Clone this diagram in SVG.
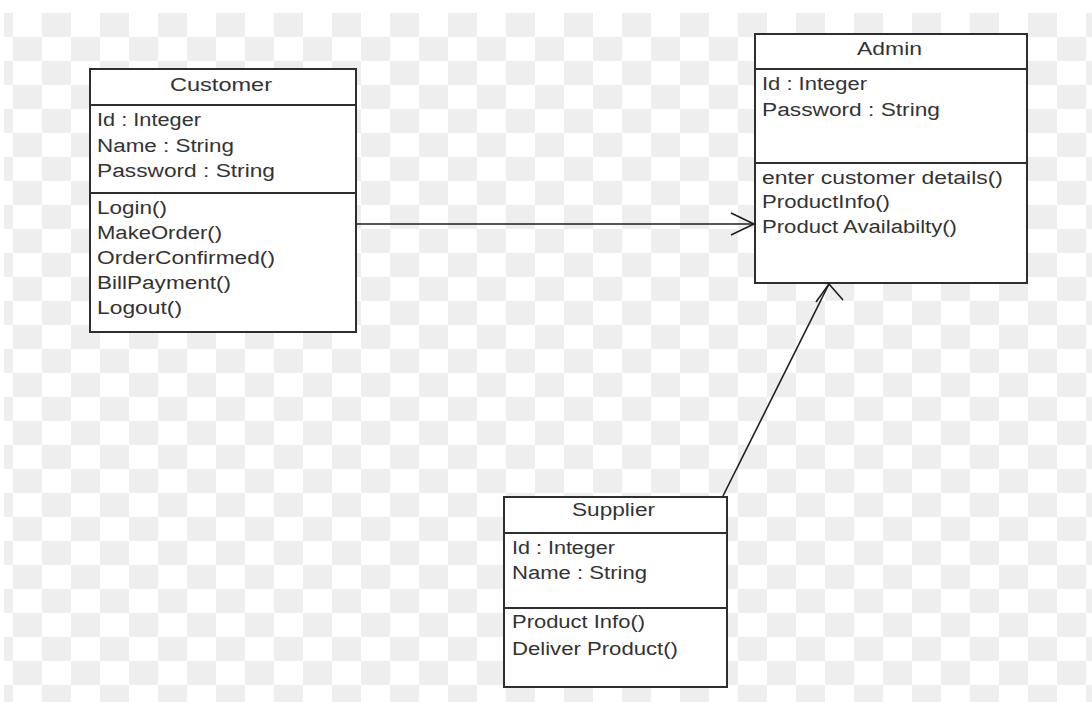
<svg xmlns="http://www.w3.org/2000/svg" width="1092" height="702" viewBox="0 0 1092 702">
  <defs>
    <pattern id="checker" patternUnits="userSpaceOnUse" x="13" y="13" width="58" height="48">
      <rect x="0" y="0" width="58" height="48" fill="#ffffff"/>
      <rect x="29" y="0" width="29" height="24" fill="#eeeeee"/>
      <rect x="0" y="24" width="29" height="24" fill="#eeeeee"/>
    </pattern>
  </defs>
  <style>
    .box { fill: #ffffff; stroke: #2e2e2e; stroke-width: 2; }
    .sep { stroke: #2e2e2e; stroke-width: 2; }
    .txt { font-family: "Liberation Sans", Arial, sans-serif; font-size: 18px; fill: #333333; }
    .link { fill: none; stroke: #1e1e1e; stroke-width: 1.6; }
  </style>

  <!-- canvas -->
  <rect x="0" y="0" width="1092" height="702" fill="#ffffff"/>
  <rect x="4" y="13" width="1088" height="689" fill="url(#checker)"/>

  <!-- class: Customer -->
  <g id="customer">
    <rect class="box" x="90" y="69" width="266" height="263"/>
    <line class="sep" x1="90" y1="105" x2="356" y2="105"/>
    <line class="sep" x1="90" y1="193" x2="356" y2="193"/>
    <text class="txt" x="170" y="91" textLength="102" lengthAdjust="spacingAndGlyphs">Customer</text>
    <text class="txt" x="97" y="126" textLength="104" lengthAdjust="spacingAndGlyphs">Id : Integer</text>
    <text class="txt" x="97" y="152" textLength="137" lengthAdjust="spacingAndGlyphs">Name : String</text>
    <text class="txt" x="97" y="177" textLength="178" lengthAdjust="spacingAndGlyphs">Password : String</text>
    <text class="txt" x="97" y="214" textLength="70" lengthAdjust="spacingAndGlyphs">Login()</text>
    <text class="txt" x="97" y="239" textLength="125" lengthAdjust="spacingAndGlyphs">MakeOrder()</text>
    <text class="txt" x="97" y="264" textLength="178" lengthAdjust="spacingAndGlyphs">OrderConfirmed()</text>
    <text class="txt" x="97" y="289" textLength="134" lengthAdjust="spacingAndGlyphs">BillPayment()</text>
    <text class="txt" x="97" y="314" textLength="85" lengthAdjust="spacingAndGlyphs">Logout()</text>
  </g>

  <!-- class: Admin -->
  <g id="admin">
    <rect class="box" x="755" y="34" width="272" height="249"/>
    <line class="sep" x1="755" y1="69" x2="1027" y2="69"/>
    <line class="sep" x1="755" y1="163" x2="1027" y2="163"/>
    <text class="txt" x="857" y="55" textLength="65" lengthAdjust="spacingAndGlyphs">Admin</text>
    <text class="txt" x="762" y="90" textLength="105" lengthAdjust="spacingAndGlyphs">Id : Integer</text>
    <text class="txt" x="762" y="116" textLength="178" lengthAdjust="spacingAndGlyphs">Password : String</text>
    <text class="txt" x="762" y="184" textLength="241" lengthAdjust="spacingAndGlyphs">enter customer details()</text>
    <text class="txt" x="762" y="208" textLength="128" lengthAdjust="spacingAndGlyphs">ProductInfo()</text>
    <text class="txt" x="762" y="233" textLength="195" lengthAdjust="spacingAndGlyphs">Product Availabilty()</text>
  </g>

  <!-- class: Supplier -->
  <g id="supplier">
    <rect class="box" x="504" y="497" width="223" height="190"/>
    <line class="sep" x1="504" y1="533" x2="727" y2="533"/>
    <line class="sep" x1="504" y1="608" x2="727" y2="608"/>
    <text class="txt" x="572" y="516" textLength="83" lengthAdjust="spacingAndGlyphs">Supplier</text>
    <text class="txt" x="512" y="554" textLength="103" lengthAdjust="spacingAndGlyphs">Id : Integer</text>
    <text class="txt" x="512" y="579" textLength="135" lengthAdjust="spacingAndGlyphs">Name : String</text>
    <text class="txt" x="512" y="628" textLength="133" lengthAdjust="spacingAndGlyphs">Product Info()</text>
    <text class="txt" x="512" y="655" textLength="166" lengthAdjust="spacingAndGlyphs">Deliver Product()</text>
  </g>

  <!-- associations with open arrowheads -->
  <g id="connectors">
    <line class="link" x1="357" y1="224" x2="754" y2="224"/>
    <polyline class="link" points="731,213 754,224 731,235"/>
    <line class="link" x1="723" y1="496" x2="829" y2="284"/>
    <polyline class="link" points="816,302 829,284 843,300"/>
  </g>
</svg>
